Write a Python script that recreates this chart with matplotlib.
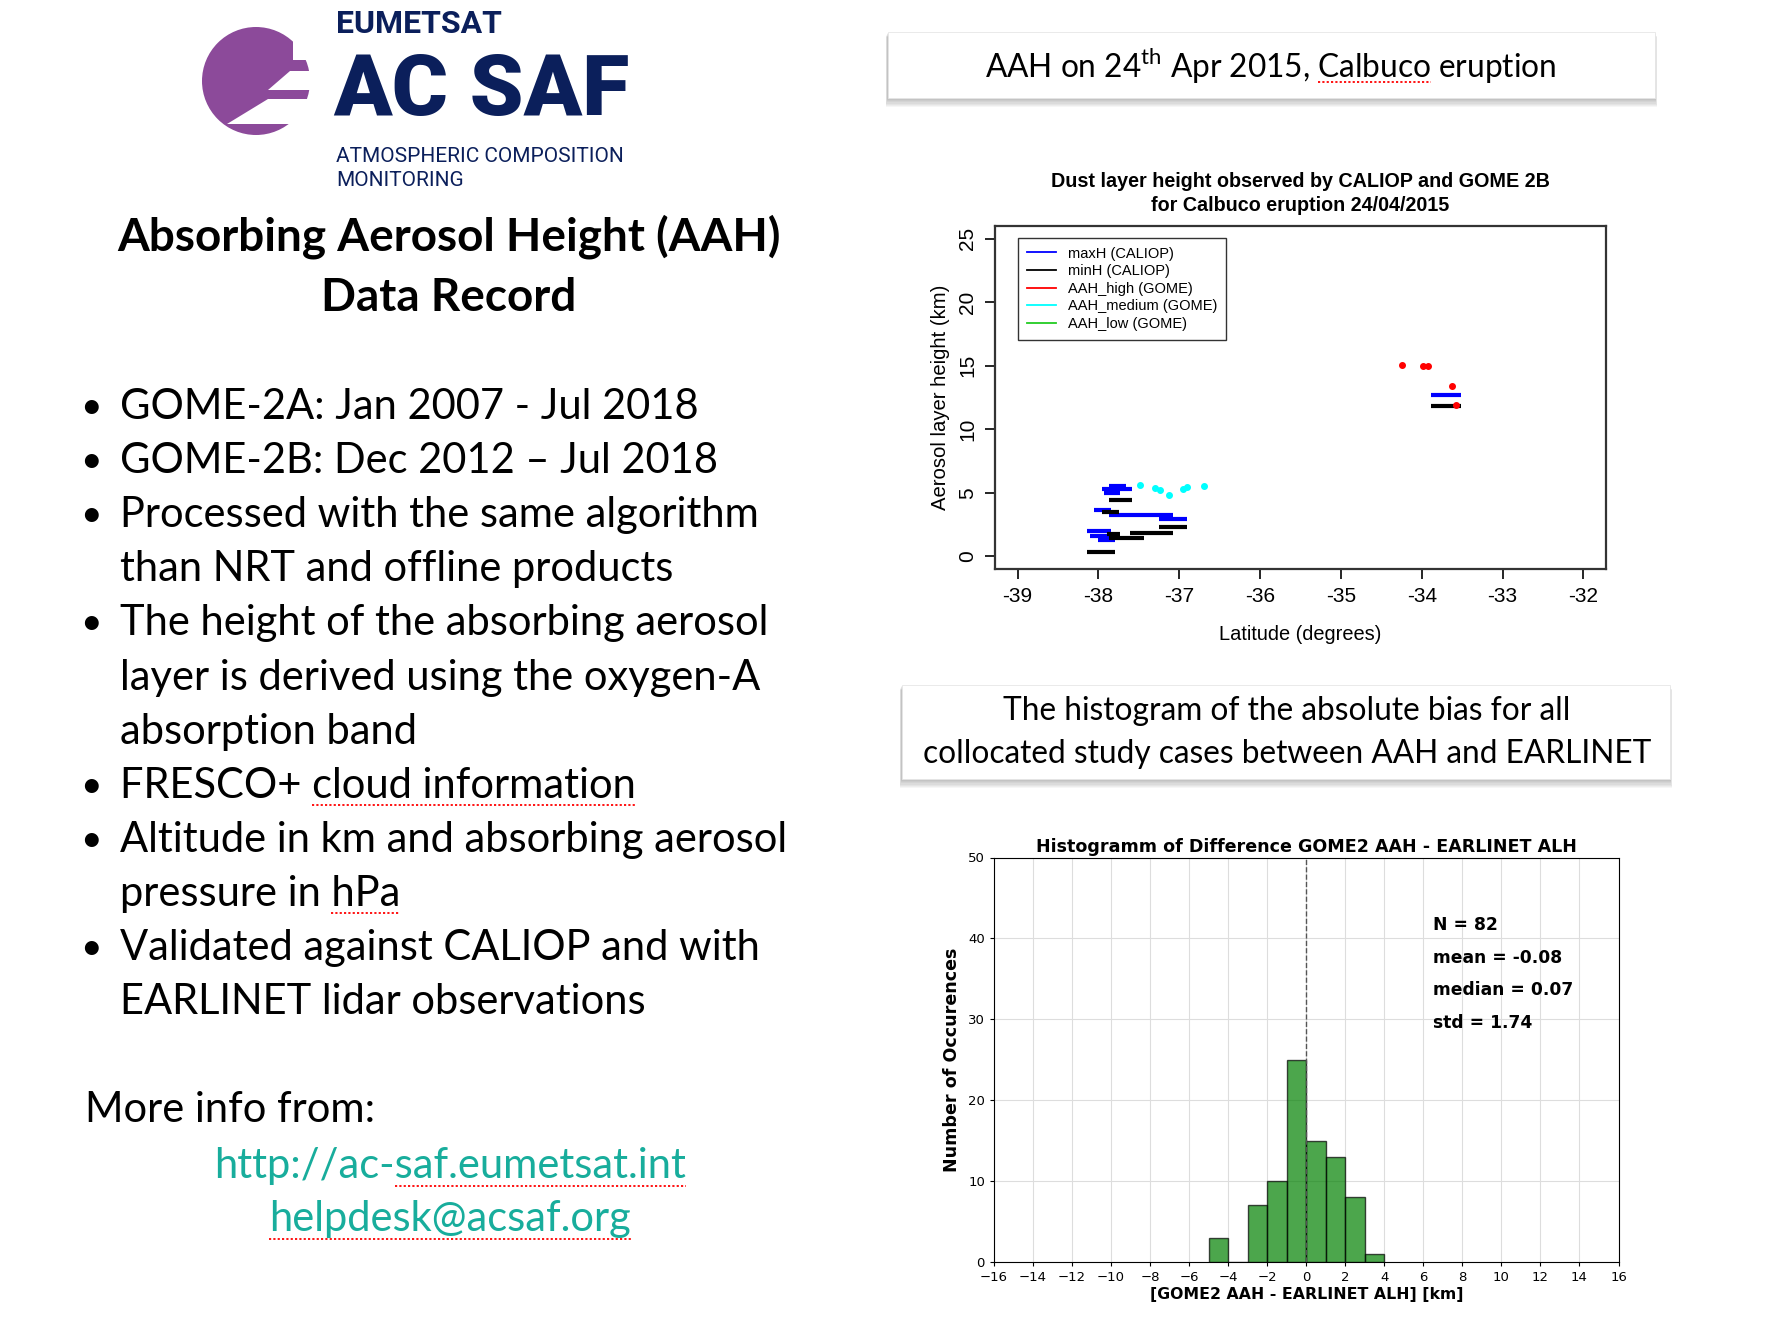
import matplotlib
matplotlib.use("Agg")
import matplotlib.pyplot as plt
from matplotlib.patches import Circle, Polygon, Rectangle
from matplotlib.lines import Line2D

W, H = 1781, 1342

# --- CALIOP / GOME-2B, Calbuco 24/04/2015 ---
maxh_lat0 = [-37.87, -37.96, -37.93, -38.05, -37.87, -37.25, -38.14, -38.10, -38.01, -33.88]
maxh_lat1 = [-37.66, -37.58, -37.73, -37.85, -37.08, -36.90, -37.85, -37.87, -37.79, -33.52]
maxh_km = [5.54, 5.28, 5.00, 3.66, 3.27, 2.93, 2.01, 1.57, 1.25, 12.67]

minh_lat0 = [-37.87, -37.96, -37.25, -37.61, -37.90, -37.87, -38.14, -33.88]
minh_lat1 = [-37.58, -37.75, -36.90, -37.08, -37.73, -37.44, -37.79, -33.52]
minh_km = [4.44, 3.45, 2.27, 1.83, 1.75, 1.46, 0.37, 11.80]

high_lat = [-34.25, -33.99, -33.92, -33.63, -33.57]
high_km = [15.02, 15.00, 15.00, 13.43, 11.94]
med_lat = [-37.48, -37.30, -37.24, -37.13, -36.95, -36.91, -36.69]
med_km = [5.64, 5.38, 5.22, 4.81, 5.28, 5.46, 5.54]

lat_ticks = list(range(-39, -31))
km_ticks = list(range(0, 26, 5))
legend_labels = ["maxH (CALIOP)", "minH (CALIOP)", "AAH_high (GOME)", "AAH_medium (GOME)", "AAH_low (GOME)"]
legend_colors = ["blue", "black", "red", "cyan", "#22cc22"]

# --- histogram GOME2 AAH - EARLINET ALH ---
bin_left = [-5, -4, -3, -2, -1, 0, 1, 2, 3]
bin_count = [3, 0, 7, 10, 25, 15, 13, 8, 1]
stats = ["N = 82", "mean = -0.08", "median = 0.07", "std = 1.74"]

bullets = [
    ["GOME-2A: Jan 2007 - Jul 2018"],
    ["GOME-2B: Dec 2012 \u2013 Jul 2018"],
    ["Processed with the same algorithm", "than NRT and offline products"],
    ["The height of the absorbing aerosol", "layer is derived using the oxygen-A", "absorption band"],
    ["FRESCO+ cloud information"],
    ["Altitude in km and absorbing aerosol", "pressure in hPa"],
    ["Validated against CALIOP and with", "EARLINET lidar observations"],
]
# words with the spell-check underline
flagged = {"FRESCO+ cloud information": "cloud information", "pressure in hPa": "hPa"}

SLIDE_FONT = "Lato"
NAVY = "#0b1f5b"
PURPLE = "#8c4a9a"
TEAL = "#18ad9c"
BODY = 30

plt.rcParams["mathtext.fontset"] = "custom"
plt.rcParams["mathtext.rm"] = SLIDE_FONT

fig = plt.figure(figsize=(W / 100, H / 100), dpi=100)
bg = fig.add_axes([0, 0, 1, 1], zorder=0)
bg.set_xlim(0, W)
bg.set_ylim(H, 0)
bg.axis("off")
renderer = fig.canvas.get_renderer()


def text_w(s, **kw):
    t = bg.text(0, 0, s, **kw)
    w = t.get_window_extent(renderer).width
    t.remove()
    return w


def squiggle(x_left, yc, full, sub, dy, **kw):
    # red dotted mark under a sub-string of a left aligned text
    x0 = x_left + text_w(full[:full.index(sub)] + sub, **kw) - text_w(sub, **kw)
    bg.plot([x0, x0 + text_w(sub, **kw)], [yc + dy, yc + dy], color="red", lw=1.3, ls=(0, (1.2, 1.2)))


# logo
bg.add_patch(Circle((256, 81), 54, color=PURPLE, lw=0))
bg.add_patch(Rectangle((293, 20), 30, 40, color="white", lw=0))
bg.add_patch(Polygon([(290, 70.7), (325, 70.7), (325, 90), (268, 90)], color="white", lw=0))
bg.add_patch(Polygon([(268, 99.3), (325, 99.3), (325, 124), (227, 124)], color="white", lw=0))
bg.text(336, 24, "EUMETSAT", family="Roboto", weight="bold", fontsize=23, color=NAVY, va="center")
bg.text(333, 92, "AC SAF", family="Roboto", weight="black", fontsize=62, color=NAVY, va="center")
bg.text(336, 156, "ATMOSPHERIC COMPOSITION", family="Roboto", fontsize=15, color=NAVY, va="center")
bg.text(336, 181, "MONITORING", family="Roboto", fontsize=15, color=NAVY, va="center")

bg.text(449, 237, "Absorbing Aerosol Height (AAH)", family=SLIDE_FONT, weight="bold", fontsize=33, ha="center", va="center")
bg.text(449, 298, "Data Record", family=SLIDE_FONT, weight="bold", fontsize=33, ha="center", va="center")

y = 407
for item in bullets:
    bg.text(91, y, "\u2022", family=SLIDE_FONT, fontsize=27, ha="center", va="center")
    for line in item:
        bg.text(120, y, line, family=SLIDE_FONT, fontsize=BODY, va="center")
        if line in flagged:
            squiggle(120, y, line, flagged[line], 19, family=SLIDE_FONT, fontsize=BODY)
        y += 54.1

bg.text(85, 1110, "More info from:", family=SLIDE_FONT, fontsize=BODY, va="center")
links = ["http://ac-saf.eumetsat.int", "helpdesk@acsaf.org"]
link_flag = ["saf.eumetsat.int", "helpdesk@acsaf.org"]
for yl, s, f in zip([1166, 1219], links, link_flag):
    bg.text(450, yl, s, family=SLIDE_FONT, fontsize=BODY, color=TEAL, ha="center", va="center")
    squiggle(450 - text_w(s, family=SLIDE_FONT, fontsize=BODY) / 2, yl, s, f, 20,
             family=SLIDE_FONT, fontsize=BODY)


def shadow_box(x0, y0, x1, y1):
    for k in range(1, 9):
        bg.add_patch(Rectangle((x0 - k * 0.3, y0 + k * 0.6), x1 - x0 + k * 0.6, y1 - y0 + k * 0.5,
                               color="black", alpha=0.035, lw=0))
    bg.add_patch(Rectangle((x0, y0), x1 - x0, y1 - y0, facecolor="white", edgecolor="#e6e6e6", lw=0.6))


BOX = 22.8
shadow_box(888, 32, 1655, 98)
head = "AAH on 24$^{\\mathrm{th}}$ Apr 2015, Calbuco eruption"
bg.text(1271, 66, head, family=SLIDE_FONT, fontsize=BOX, ha="center", va="center")
hw = text_w(head, family=SLIDE_FONT, fontsize=BOX)
squiggle(1271 - hw / 2, 66, head, "Calbuco", 16, family=SLIDE_FONT, fontsize=BOX)
shadow_box(902, 685, 1670, 779)
bg.text(1287, 711, "The histogram of the absolute bias for all", family=SLIDE_FONT, fontsize=BOX, ha="center", va="center")
bg.text(1287, 754, "collocated study cases between AAH and EARLINET", family=SLIDE_FONT, fontsize=BOX, ha="center", va="center")

# --- top plot (R style) ---
ax = fig.add_axes([995 / W, 1 - 569 / H, (1606 - 995) / W, (569 - 226) / H], zorder=2)
rf = "Liberation Sans"
ax.hlines(maxh_km, maxh_lat0, maxh_lat1, color="blue", lw=3)
ax.hlines(minh_km, minh_lat0, minh_lat1, color="black", lw=3)
ax.plot(high_lat, high_km, "o", color="red", ms=4)
ax.plot(med_lat, med_km, "o", color="cyan", ms=4)
ax.set_xlim(-39.28, -31.72)
ax.set_ylim(-1, 26)
ax.set_xticks(lat_ticks)
ax.set_xticklabels([str(v) for v in lat_ticks], family=rf)
ax.set_yticks(km_ticks)
ax.set_yticklabels([str(v) for v in km_ticks], family=rf, rotation=90, va="center")
for s in ax.spines.values():
    s.set_linewidth(1.6)
    s.set_color("#333333")
ax.tick_params(direction="out", length=7, width=1.2, labelsize=15, pad=6)
ax.set_xlabel("Latitude (degrees)", family=rf, fontsize=14.4, labelpad=14)
ax.set_ylabel("Aerosol layer height (km)", family=rf, fontsize=14.6, labelpad=6)
ax.set_title("Dust layer height observed by CALIOP and GOME 2B\nfor Calbuco eruption 24/04/2015",
             family=rf, weight="bold", fontsize=14.2, pad=11, linespacing=1.3)
leg_handles = [Line2D([], [], color=c, lw=1.3) for c in legend_colors]
leg = ax.legend(leg_handles, legend_labels, loc="upper left", bbox_to_anchor=(0.026, 0.987),
                prop={"family": rf, "size": 10.5}, fancybox=False, edgecolor="#333333",
                handlelength=2.0, labelspacing=0.25, borderpad=0.6, handletextpad=0.8, framealpha=1)
leg.get_frame().set_linewidth(1.0)

# --- histogram ---
hx = fig.add_axes([994 / W, 1 - 1262 / H, (1618.5 - 994) / W, (1262 - 857.5) / H], zorder=2)
hx.bar(bin_left, bin_count, width=1, align="edge", color="green", alpha=0.7,
       edgecolor="black", lw=1.0, zorder=3)
hx.axvline(0, color="#555555", ls="--", lw=1, zorder=4)
hx.set_xlim(-16, 16)
hx.set_ylim(0, 50)
hx.set_xticks(range(-16, 17, 2))
hx.set_yticks(range(0, 51, 10))
hx.grid(True, color="#dddddd", lw=0.8, zorder=0)
hx.set_axisbelow(True)
hx.tick_params(labelsize=9.5, length=3)
hx.set_title("Histogramm of Difference GOME2 AAH - EARLINET ALH", weight="bold", fontsize=12.6, pad=4)
hx.set_xlabel("[GOME2 AAH - EARLINET ALH] [km]", weight="bold", fontsize=11.3, labelpad=2)
hx.set_ylabel("Number of Occurences", weight="bold", fontsize=12.6, labelpad=5)
for i, s in enumerate(stats):
    hx.text(6.5, 41.6 - 4 * i, s, weight="bold", fontsize=12.3, va="center")

fig.savefig("out.png", dpi=100, facecolor="white")
